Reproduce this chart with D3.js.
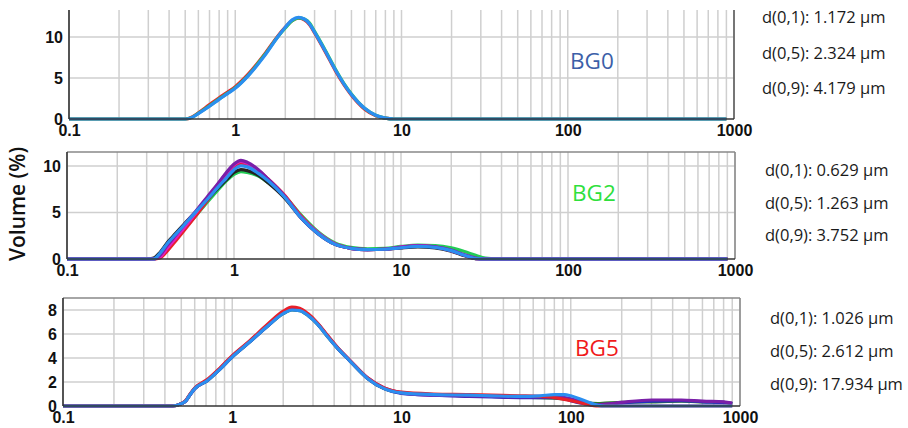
<!DOCTYPE html>
<html>
<head>
<meta charset="utf-8">
<script src="https://cdn.jsdelivr.net/npm/d3@7"></script>
<style>
  body { margin: 0; background: #fff; }
  .tick text { font-family: "Liberation Sans", Arial, sans-serif; font-weight: bold; font-size: 16px; fill: #111; }
  .note { font-family: "Open Sans", sans-serif; font-size: 16.5px; fill: #1a1a1a; }
  .tag { font-family: "Open Sans", sans-serif; font-size: 22.5px; }
</style>
</head>
<body>
<svg id="chart" width="908" height="428"></svg>
<script>
// x ticks (particle size, µm) and y ticks (volume %)
const xTicks = [0.1, 1, 10, 100, 1000];
const yTicksBG0 = [0, 5, 10];
const yTicksBG2 = [0, 5, 10];
const yTicksBG5 = [0, 2, 4, 6, 8];

// BG0
const sizesBG0 = [0.1, 0.3, 0.5, 0.55, 0.6, 0.7, 0.8, 0.9, 1.0, 1.2, 1.5, 1.8, 2.0, 2.2, 2.4, 2.6, 2.8, 3.0, 3.5, 4.0, 4.5, 5.0, 6.0, 7.0, 8.0, 9.0, 20, 100, 900];
const bg0Red   = [0, 0, 0, 0.25, 0.75, 1.75, 2.6, 3.3, 3.95, 5.5, 7.9, 10.1, 11.2, 12.0, 12.3, 12.1, 11.5, 10.5, 8.1, 5.9, 4.2, 2.9, 1.2, 0.4, 0.1, 0, 0, 0, 0];
const bg0Green = [0, 0, 0, 0.2, 0.7, 1.6, 2.45, 3.15, 3.8, 5.35, 7.8, 10.0, 11.1, 12.0, 12.35, 12.2, 11.7, 10.7, 8.3, 6.1, 4.35, 3.05, 1.3, 0.45, 0.1, 0, 0, 0, 0];
const bg0Blue  = [0, 0, 0, 0.2, 0.65, 1.55, 2.4, 3.1, 3.75, 5.3, 7.7, 10.0, 11.2, 12.1, 12.4, 12.2, 11.6, 10.6, 8.2, 6.0, 4.3, 3.0, 1.3, 0.45, 0.1, 0, 0, 0, 0];
const dBG0 = ["d(0,1): 1.172 µm", "d(0,5): 2.324 µm", "d(0,9): 4.179 µm"];

// BG2
const sizesBG2 = [0.1, 0.3, 0.33, 0.36, 0.4, 0.45, 0.5, 0.6, 0.7, 0.8, 0.9, 1.0, 1.1, 1.2, 1.4, 1.6, 2.0, 2.5, 3.2, 4.0, 5.0, 6.3, 8.0, 10, 12.6, 16, 20, 24, 28, 32, 40, 100, 900];
const bg2Green   = [0, 0, 0, 0.3, 1.3, 2.3, 3.2, 4.8, 6.2, 7.4, 8.4, 9.1, 9.4, 9.3, 8.9, 8.2, 6.8, 4.8, 2.9, 1.75, 1.25, 1.1, 1.15, 1.35, 1.5, 1.45, 1.2, 0.8, 0.4, 0.1, 0, 0, 0];
const bg2Red     = [0, 0, 0, 0.1, 0.9, 2.0, 3.0, 4.8, 6.4, 7.8, 9.0, 9.9, 10.3, 10.2, 9.5, 8.6, 6.9, 4.7, 2.8, 1.65, 1.15, 1.0, 1.05, 1.2, 1.35, 1.25, 0.9, 0.4, 0.05, 0, 0, 0, 0];
const bg2Black   = [0, 0, 0.1, 0.7, 1.8, 2.8, 3.7, 5.2, 6.5, 7.6, 8.5, 9.3, 9.6, 9.5, 9.0, 8.2, 6.6, 4.5, 2.7, 1.6, 1.15, 1.0, 1.05, 1.2, 1.3, 1.2, 0.85, 0.35, 0.05, 0, 0, 0, 0];
const bg2Magenta = [0, 0, 0, 0.2, 1.2, 2.3, 3.3, 5.1, 6.6, 8.0, 9.2, 10.1, 10.5, 10.3, 9.5, 8.5, 6.8, 4.6, 2.8, 1.65, 1.15, 1.0, 1.05, 1.3, 1.45, 1.3, 0.9, 0.4, 0.05, 0, 0, 0, 0];
const bg2Purple  = [0, 0, 0, 0.4, 1.5, 2.6, 3.6, 5.3, 6.8, 8.1, 9.3, 10.2, 10.6, 10.4, 9.6, 8.6, 6.8, 4.5, 2.7, 1.6, 1.15, 1.0, 1.05, 1.25, 1.4, 1.3, 0.95, 0.45, 0.1, 0, 0, 0, 0];
const bg2Blue    = [0, 0, 0, 0.6, 1.7, 2.7, 3.6, 5.2, 6.5, 7.7, 8.7, 9.6, 10.0, 9.9, 9.2, 8.4, 6.7, 4.5, 2.7, 1.6, 1.15, 1.0, 1.05, 1.2, 1.35, 1.25, 0.9, 0.4, 0.05, 0, 0, 0, 0];
const dBG2 = ["d(0,1): 0.629 µm", "d(0,5): 1.263 µm", "d(0,9): 3.752 µm"];

// BG5
const sizesBG5 = [0.1, 0.3, 0.44, 0.5, 0.53, 0.56, 0.6, 0.71, 0.85, 1.0, 1.27, 1.6, 2.0, 2.25, 2.5, 2.8, 3.2, 3.6, 4.2, 5.0, 6.3, 7.9, 10, 15.5, 25, 34, 50, 66, 80, 92, 100, 120, 145, 160, 200, 300, 450, 600, 800, 900];
const bg5Green  = [0, 0, 0, 0.2, 0.4, 0.9, 1.45, 2.1, 3.1, 4.1, 5.35, 6.6, 7.7, 8.0, 7.95, 7.55, 6.8, 5.9, 4.8, 3.7, 2.3, 1.45, 1.1, 0.95, 0.85, 0.8, 0.75, 0.7, 0.65, 0.6, 0.5, 0.3, 0.2, 0.25, 0.3, 0.35, 0.4, 0.35, 0.3, 0.2];
const bg5Red    = [0, 0, 0, 0.2, 0.45, 0.95, 1.5, 2.2, 3.2, 4.2, 5.45, 6.75, 7.9, 8.25, 8.15, 7.7, 6.9, 6.0, 4.85, 3.75, 2.35, 1.5, 1.15, 1.0, 0.95, 0.9, 0.85, 0.8, 0.7, 0.55, 0.45, 0.2, 0, 0, 0, 0, 0, 0, 0, 0];
const bg5Navy   = [0, 0, 0, 0.2, 0.4, 0.9, 1.45, 2.1, 3.1, 4.1, 5.35, 6.6, 7.75, 8.05, 8.0, 7.6, 6.85, 5.95, 4.8, 3.7, 2.3, 1.45, 1.05, 0.9, 0.8, 0.75, 0.7, 0.7, 0.7, 0.6, 0.45, 0.2, 0.05, 0.1, 0.25, 0.4, 0.45, 0.35, 0.3, 0.2];
const bg5Purple = [0, 0, 0, 0.2, 0.4, 0.9, 1.45, 2.15, 3.15, 4.15, 5.4, 6.7, 7.8, 8.1, 8.05, 7.6, 6.85, 5.95, 4.85, 3.75, 2.35, 1.5, 1.1, 0.9, 0.85, 0.8, 0.75, 0.75, 0.8, 0.7, 0.6, 0.3, 0.1, 0.15, 0.3, 0.5, 0.5, 0.4, 0.35, 0.25];
const bg5Blue   = [0, 0, 0, 0.2, 0.4, 0.9, 1.45, 2.1, 3.1, 4.1, 5.35, 6.6, 7.7, 8.0, 7.95, 7.55, 6.8, 5.9, 4.8, 3.7, 2.3, 1.45, 1.1, 0.95, 0.9, 0.85, 0.8, 0.85, 0.95, 0.95, 0.85, 0.45, 0.05, 0, 0, 0, 0, 0, 0, 0];
const dBG5 = ["d(0,1): 1.026 µm", "d(0,5): 2.612 µm", "d(0,9): 17.934 µm"];

const colors = {
  red: "#e8202a", green: "#22cc55", black: "#222", magenta: "#e020c0",
  purple: "#7a1fa8", navy: "#2030c0", darkgreen: "#2a7a2a", blue: "#2b8ef0"
};

const panels = [
  { name: "BG0", tagColor: "#3c5fa8", sizes: sizesBG0, yTicks: yTicksBG0, notes: dBG0,
    series: [[bg0Red, colors.red], [bg0Green, colors.green], [bg0Blue, colors.blue]],
    x0: 69, x1: 734, y0: 119, top: 10, yMax: 13.3, topBorder: false, frame: "#555",
    noteX: 762, noteY: 23, noteGap: 35.5, tagX: 570, tagY: 69 },
  { name: "BG2", tagColor: "#2ee03c", sizes: sizesBG2, yTicks: yTicksBG2, notes: dBG2,
    series: [[bg2Green, colors.green], [bg2Red, colors.red], [bg2Black, colors.black],
             [bg2Magenta, colors.magenta], [bg2Purple, colors.purple], [bg2Blue, colors.blue]],
    x0: 67, x1: 735, y0: 259, top: 152, yMax: 11.5, topBorder: true, frame: "#888",
    noteX: 765, noteY: 176, noteGap: 32.5, tagX: 572, tagY: 201 },
  { name: "BG5", tagColor: "#f01a1a", sizes: sizesBG5, yTicks: yTicksBG5, notes: dBG5,
    series: [[bg5Green, colors.darkgreen], [bg5Navy, colors.navy], [bg5Purple, colors.purple],
             [bg5Red, colors.red], [bg5Blue, colors.blue]],
    x0: 63, x1: 740, y0: 406, top: 298, yMax: 9.0, topBorder: true, frame: "#888",
    noteX: 770, noteY: 324, noteGap: 33, tagX: 575, tagY: 356 }
];

const svg = d3.select("#chart");
const minorX = [];
[0.1, 1, 10, 100].forEach(d => { for (let k = 1; k <= 9; k++) minorX.push(d * k); });

panels.forEach(p => {
  const x = d3.scaleLog().domain([0.1, 1000]).range([p.x0, p.x1]);
  const y = d3.scaleLinear().domain([0, p.yMax]).range([p.y0, p.top]);
  const g = svg.append("g");

  // grid
  g.selectAll(".vg").data(minorX.concat([1000])).enter().append("line")
    .attr("x1", d => x(d)).attr("x2", d => x(d))
    .attr("y1", p.y0).attr("y2", p.top)
    .attr("stroke", "#cfcfcf").attr("stroke-width", 1.5);
  g.selectAll(".hg").data(p.yTicks.filter(d => d > 0)).enter().append("line")
    .attr("x1", p.x0).attr("x2", p.x1)
    .attr("y1", d => y(d)).attr("y2", d => y(d))
    .attr("stroke", "#cfcfcf").attr("stroke-width", 1.5);

  // frame
  if (p.topBorder) {
    g.append("line").attr("x1", p.x0).attr("x2", p.x1).attr("y1", p.top).attr("y2", p.top)
      .attr("stroke", p.frame).attr("stroke-width", 1.5);
  }
  g.append("line").attr("x1", p.x1).attr("x2", p.x1).attr("y1", p.top).attr("y2", p.y0)
    .attr("stroke", p.frame).attr("stroke-width", 1.5);

  // curves
  const line = d3.line()
    .x((d, i) => x(p.sizes[i]))
    .y(d => y(d))
    .curve(d3.curveMonotoneX);
  p.series.forEach(([vals, c]) => {
    g.append("path").attr("d", line(vals))
      .attr("fill", "none").attr("stroke", c)
      .attr("stroke-width", 3.2).attr("stroke-linejoin", "round");
  });

  // axes lines
  g.append("line").attr("x1", p.x0).attr("x2", p.x0).attr("y1", p.top).attr("y2", p.y0)
    .attr("stroke", "#333").attr("stroke-width", 1.6);
  g.append("line").attr("x1", p.x0).attr("x2", p.x1).attr("y1", p.y0).attr("y2", p.y0)
    .attr("stroke", "#333").attr("stroke-width", 1.6);

  // tick labels
  const xa = g.append("g").attr("transform", `translate(0,${p.y0})`)
    .call(d3.axisBottom(x).tickValues(xTicks).tickFormat(d => String(d)).tickSize(0).tickPadding(6));
  xa.select(".domain").remove();
  xa.selectAll("text").attr("dy", "0.71em");

  const ya = g.append("g").attr("transform", `translate(${p.x0},0)`)
    .call(d3.axisLeft(y).tickValues(p.yTicks).tickSize(0).tickPadding(6));
  ya.select(".domain").remove();

  // d-values
  g.selectAll(".note").data(p.notes).enter().append("text")
    .attr("class", "note")
    .attr("x", p.noteX).attr("y", (d, i) => p.noteY + i * p.noteGap)
    .text(d => d);

  // sample tag
  g.append("text").attr("class", "tag")
    .attr("x", p.tagX).attr("y", p.tagY)
    .attr("fill", p.tagColor).text(p.name);
});

svg.append("text")
  .attr("transform", "translate(25,204) rotate(-90)")
  .attr("text-anchor", "middle")
  .style("font-family", "Open Sans, sans-serif")
  .style("font-size", "21px").style("font-weight", 600)
  .attr("fill", "#111")
  .text("Volume (%)");
</script>
</body>
</html>
